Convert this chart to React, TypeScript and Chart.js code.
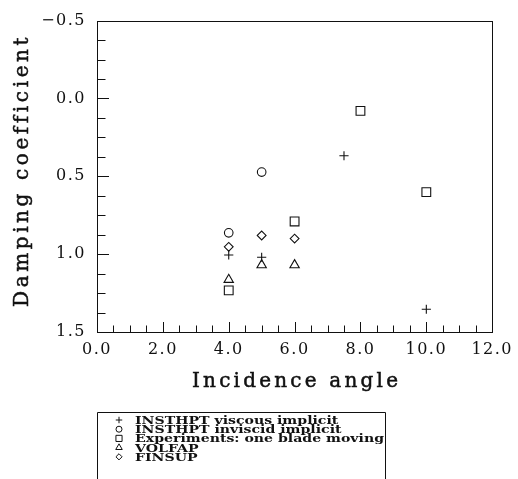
import { useEffect, useRef } from 'react';
import { Chart, registerables } from 'chart.js';
import { drawPoint } from 'chart.js/helpers';

Chart.register(...registerables);

// Damping coefficient against incidence angle, one series per method
const viscousX = [4, 5, 7.5, 10];
const viscousY = [1.005, 1.02, 0.368, 1.354];
const inviscidX = [4, 5];
const inviscidY = [0.863, 0.473];
const experimentX = [4, 6, 8, 10];
const experimentY = [1.233, 0.79, 0.08, 0.602];
const volfapX = [4, 5, 6];
const volfapY = [1.164, 1.07, 1.07];
const finsupX = [4, 5, 6];
const finsupY = [0.953, 0.88, 0.9];

const seriesLabels = [
  'INSTHPT viscous implicit',
  'INSTHPT inviscid implicit',
  'Experiments: one blade moving',
  'VOLFAP',
  'FINSUP',
];

const xTitle = 'Incidence angle';
const yTitle = 'Damping coefficient';

const INK = '#111';
const SERIF = '"DejaVu Serif", "Liberation Serif", serif';

const toPoints = (xs: number[], ys: number[]) => xs.map((x, i) => ({ x, y: ys[i] }));

const isMultiple = (v: number, step: number) => Math.abs(v / step - Math.round(v / step)) < 1e-6;

const fmt = (v: number) => v.toFixed(1).replace('-', '\u2212');

// Draws text so that it spans exactly `width` pixels, widening the letter gaps
function spacedText(ctx: CanvasRenderingContext2D, text: string, x: number, y: number, width: number) {
  (ctx as any).letterSpacing = '0px';
  const w0 = ctx.measureText(text).width;
  const ls = (width - w0) / (text.length - 1);
  (ctx as any).letterSpacing = `${ls}px`;
  ctx.textAlign = 'left';
  ctx.fillText(text, x, y);
  ctx.lineWidth = 0.5;
  ctx.strokeText(text, x, y);
  (ctx as any).letterSpacing = '0px';
}

const decorations = {
  id: 'decorations',
  beforeDraw(chart: any) {
    (chart.ctx as any).letterSpacing = '1.5px';
  },
  afterDraw(chart: any) {
    const ctx: CanvasRenderingContext2D = chart.ctx;
    (ctx as any).letterSpacing = '0px';
    const { left, right, top, bottom } = chart.chartArea;
    const xs = chart.scales.x;
    const ys = chart.scales.y;

    ctx.save();
    ctx.strokeStyle = INK;
    ctx.lineWidth = 1;

    // inward tick marks on the left axis
    ctx.beginPath();
    for (const t of ys.ticks) {
      const py = Math.round(ys.getPixelForValue(t.value)) + 0.5;
      const len = isMultiple(t.value, 0.5) ? 12 : 8.5;
      ctx.moveTo(left, py);
      ctx.lineTo(left + len, py);
    }
    // inward tick marks on the bottom axis
    for (const t of xs.ticks) {
      const px = Math.round(xs.getPixelForValue(t.value)) + 0.5;
      const len = isMultiple(t.value, 2) ? 10 : 6.5;
      ctx.moveTo(px, bottom);
      ctx.lineTo(px, bottom - len);
    }
    ctx.stroke();

    // plot frame
    ctx.strokeRect(Math.round(left) + 0.5, Math.round(top) + 0.5, Math.round(right - left), Math.round(bottom - top));

    // axis titles
    ctx.fillStyle = INK;
    ctx.font = `20px ${SERIF}`;
    ctx.textBaseline = 'alphabetic';
    spacedText(ctx, xTitle, 192, 387, 206);
    ctx.save();
    ctx.translate(28, 307);
    ctx.rotate(-Math.PI / 2);
    spacedText(ctx, yTitle, 0, 0, 269);
    ctx.restore();

    // legend box below the plot
    ctx.lineWidth = 1;
    const boxLeft = 97.5;
    const boxTop = 412.5;
    const boxRight = 385.5;
    ctx.beginPath();
    ctx.moveTo(boxLeft, chart.height + 5);
    ctx.lineTo(boxLeft, boxTop);
    ctx.lineTo(boxRight, boxTop);
    ctx.lineTo(boxRight, chart.height + 5);
    ctx.stroke();

    ctx.font = `bold 11px ${SERIF}`;
    let widest = 0;
    for (const ds of chart.data.datasets) widest = Math.max(widest, ctx.measureText(ds.label).width);
    const stretch = 249 / widest;
    chart.data.datasets.forEach((ds: any, i: number) => {
      const cy = 420 + i * 9.2;
      ctx.fillStyle = 'rgba(0,0,0,0)';
      ctx.strokeStyle = INK;
      drawPoint(ctx, { pointStyle: ds.pointStyle, radius: ds.pointRadius * 0.7, borderWidth: 1, rotation: 0 } as any, 119, cy);
      ctx.fillStyle = INK;
      ctx.save();
      ctx.translate(135, cy + 4);
      ctx.scale(stretch, 1);
      ctx.textAlign = 'left';
      ctx.fillText(ds.label, 0, 0);
      ctx.restore();
    });

    ctx.restore();
  },
};

export default function App() {
  const canvasRef = useRef<HTMLCanvasElement>(null);

  useEffect(() => {
    const canvas = canvasRef.current;
    if (!canvas) return;

    const marker = (pointStyle: string, pointRadius: number) => ({
      pointStyle,
      pointRadius,
      pointHoverRadius: pointRadius,
      borderColor: INK,
      backgroundColor: 'rgba(0,0,0,0)',
      borderWidth: 1.1,
      showLine: false,
    });

    const chart = new Chart(canvas, {
      type: 'scatter',
      data: {
        datasets: [
          { label: seriesLabels[0], data: toPoints(viscousX, viscousY), ...marker('cross', 4.6) },
          { label: seriesLabels[1], data: toPoints(inviscidX, inviscidY), ...marker('circle', 4.3) },
          { label: seriesLabels[2], data: toPoints(experimentX, experimentY), ...marker('rect', 6.2) },
          { label: seriesLabels[3], data: toPoints(volfapX, volfapY), ...marker('triangle', 5.4) },
          { label: seriesLabels[4], data: toPoints(finsupX, finsupY), ...marker('rectRot', 4.4) },
        ],
      },
      options: {
        responsive: false,
        animation: false,
        devicePixelRatio: 1,
        layout: { padding: { left: 0, top: 13, right: 23, bottom: 0 } },
        plugins: {
          legend: { display: false },
          tooltip: { enabled: false },
        },
        scales: {
          x: {
            type: 'linear',
            min: 0,
            max: 12,
            grid: { display: false, drawTicks: false },
            border: { display: false },
            afterFit: (scale: any) => {
              scale.height = 147;
            },
            ticks: {
              stepSize: 0.5,
              autoSkip: false,
              maxRotation: 0,
              padding: 8,
              color: INK,
              font: { family: SERIF, size: 16 },
              callback: (v: any) => (isMultiple(Number(v), 2) ? fmt(Number(v)) : ''),
            },
          },
          y: {
            type: 'linear',
            reverse: true,
            min: -0.5,
            max: 1.5,
            grid: { display: false, drawTicks: false },
            border: { display: false },
            afterFit: (scale: any) => {
              scale.width = 97;
            },
            ticks: {
              stepSize: 0.125,
              autoSkip: false,
              padding: 11,
              color: INK,
              font: { family: SERIF, size: 16 },
              callback: (v: any) => (isMultiple(Number(v), 0.5) ? fmt(Number(v)) : ''),
            },
          },
        },
      },
      plugins: [decorations],
    } as any);

    return () => chart.destroy();
  }, []);

  return (
    <div style={{ position: 'absolute', left: 0, top: 0, width: 518, height: 479, background: '#fff' }}>
      <canvas ref={canvasRef} width={518} height={479} />
    </div>
  );
}
